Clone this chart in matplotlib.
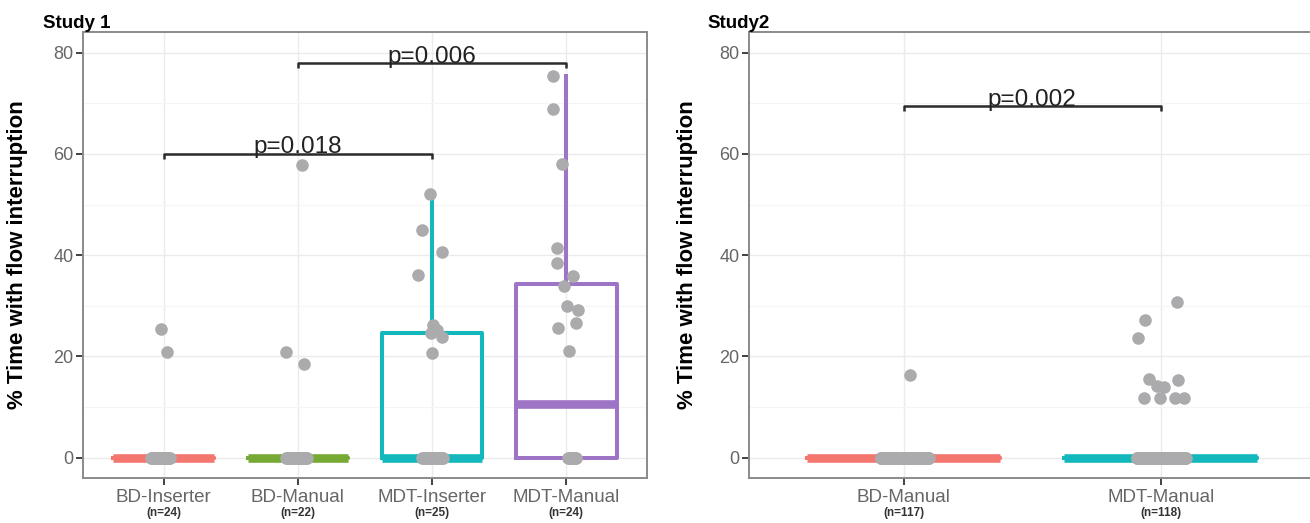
import numpy as np
import matplotlib.pyplot as plt
from matplotlib import transforms

plt.rcParams['font.family'] = ['Liberation Sans', 'DejaVu Sans']

# ---- Study 1 data (% time with flow interruption) ----
s1_groups = ["BD-Inserter", "BD-Manual", "MDT-Inserter", "MDT-Manual"]
s1_n = [24, 22, 25, 24]
s1_bd_inserter = [25.4, 20.9] + [0.0] * 22
s1_bd_manual = [57.8, 20.9, 18.5] + [0.0] * 19
s1_mdt_inserter = [52.1, 44.9, 40.6, 36.0, 26.3, 25.2, 24.6, 23.9, 20.6] + [0.0] * 16
s1_mdt_manual = [75.4, 68.8, 57.9, 41.4, 38.4, 35.9, 33.9, 30.0, 29.2, 26.7, 25.7, 21.1] + [0.0] * 12
s1_pvals = [(1, 3, 60.0, "p=0.018"), (2, 4, 77.9, "p=0.006")]

# ---- Study 2 data ----
s2_groups = ["BD-Manual", "MDT-Manual"]
s2_n = [117, 118]
s2_bd_manual = [16.3] + [0.0] * 116
s2_mdt_manual = [30.8, 27.1, 23.6, 15.6, 15.4, 14.2, 13.9, 11.8, 11.8, 11.8, 11.8] + [0.0] * 107
s2_pvals = [(1, 2, 69.4, "p=0.002")]

# horizontal jitter of the non-zero points
s1_jitter = [
    [-0.022, 0.027],
    [0.03, -0.089, 0.047],
    [-0.015, -0.077, 0.072, -0.102, 0.005, 0.035, -0.010, 0.072, -0.002],
    [-0.100, -0.100, -0.033, -0.066, -0.066, 0.049, -0.016, 0.004, 0.091, 0.074, -0.058, 0.022],
]
s1_zero_band = [(-0.092, 0.046), (-0.09, 0.07), (-0.078, 0.085), (0.015, 0.07)]
s2_jitter = [
    [0.025],
    [0.063, -0.063, -0.089, -0.045, 0.067, -0.015, 0.011, -0.067, -0.002, 0.056, 0.089],
]
s2_zero_band = [(-0.09, 0.098), (-0.094, 0.096)]

s1_colors = ["#F3776E", "#76AA35", "#12B8BC", "#9E74C6"]
s2_colors = ["#F3776E", "#12B8BC"]
point_color = "#ABABAD"


def draw_panel(fig, ax, groups, values, n, jitter, bands, colors, pvals):
    pos = np.arange(1, len(groups) + 1)
    bp = ax.boxplot(values, positions=pos, widths=0.75, whis=1.5,
                    showfliers=False, showcaps=False,
                    boxprops=dict(linewidth=2.9),
                    whiskerprops=dict(linewidth=2.9),
                    medianprops=dict(linewidth=6.2, solid_capstyle='butt'))
    for i, c in enumerate(colors):
        bp['boxes'][i].set_color(c)
        bp['whiskers'][2 * i].set_color(c)
        bp['whiskers'][2 * i + 1].set_color(c)
        bp['medians'][i].set_color(c)
        bp['medians'][i].set_zorder(3)

    # jittered points
    for i, vals in enumerate(values):
        k = len(jitter[i])
        nz = len(vals) - k
        xs = np.concatenate([pos[i] + np.array(jitter[i]),
                             pos[i] + np.linspace(bands[i][0], bands[i][1], nz)])
        ax.scatter(xs, vals, s=82, color=point_color, linewidths=0, zorder=4)

    # significance brackets
    for a, b, y, label in pvals:
        ax.plot([a, a, b, b], [y - 1.0, y, y, y - 1.0], color="#2B2B2B", lw=1.8,
                zorder=5, solid_capstyle='butt')
        ax.text((a + b) / 2, y + 0.1, label, ha='center', va='baseline',
                fontsize=17.5, color="#222222", zorder=6)

    ax.set_xlim(0.4, len(groups) + 0.6)
    ax.set_ylim(-4, 84)
    ax.set_yticks([0, 20, 40, 60, 80])
    ax.set_yticks([10, 30, 50, 70], minor=True)
    ax.set_xticks(pos)
    ax.set_xticklabels(groups)
    ax.grid(True, which='major', color="#EBEBEB", lw=1.0)
    ax.grid(True, which='minor', axis='y', color="#F5F5F5", lw=0.8)
    ax.set_axisbelow(True)
    ax.tick_params(axis='both', which='major', direction='out', length=5, width=1.3,
                   color="#333333", labelcolor="#666666", labelsize=13, pad=2)
    ax.tick_params(axis='x', labelsize=13.5, pad=3)
    ax.tick_params(which='minor', length=0)
    for sp in ax.spines.values():
        sp.set_color("#8A8A8A")
        sp.set_linewidth(1.4)

    trans = transforms.blended_transform_factory(ax.transData, fig.transFigure)
    for p, cnt in zip(pos, n):
        ax.text(p, 1 - 513 / 523, "(n=%d)" % cnt, transform=trans, ha='center',
                va='center', fontsize=8.5, fontweight='bold', color="#333333")


fig = plt.figure(figsize=(13.1, 5.23), dpi=100)
ax1 = fig.add_axes([83.3 / 1310, 1 - 478 / 523, 563.4 / 1310, 445.7 / 523])
ax2 = fig.add_axes([749.3 / 1310, 1 - 478 / 523, 566.0 / 1310, 445.7 / 523])

draw_panel(fig, ax1, s1_groups,
           [s1_bd_inserter, s1_bd_manual, s1_mdt_inserter, s1_mdt_manual],
           s1_n, s1_jitter, s1_zero_band, s1_colors, s1_pvals)
draw_panel(fig, ax2, s2_groups, [s2_bd_manual, s2_mdt_manual],
           s2_n, s2_jitter, s2_zero_band, s2_colors, s2_pvals)

fig.text(43 / 1310, 1 - 28 / 523, "Study 1", fontsize=13.5, fontweight='bold', va='baseline')
fig.text(707 / 1310, 1 - 28 / 523, "Study2", fontsize=13.5, fontweight='bold', va='baseline')
for xpx in (18, 688):
    fig.text(xpx / 1310, 1 - 255 / 523, "% Time with flow interruption", rotation=90,
             ha='center', va='center', fontsize=16, fontweight='bold')

fig.savefig("out.png", dpi=100)
plt.close(fig)
